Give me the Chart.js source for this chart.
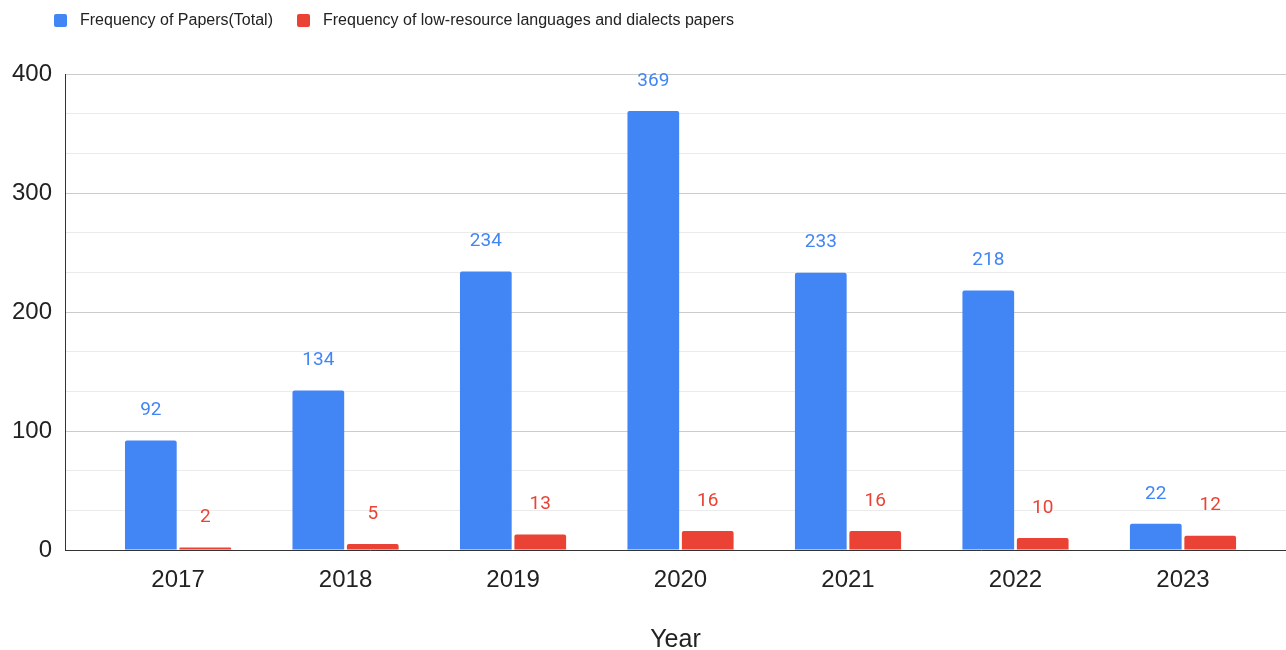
<!doctype html>
<html lang="en">
<head>
  <meta charset="UTF-8">
  <title>Papers per year</title>
  <script src="https://cdn.jsdelivr.net/npm/chart.js"></script>
  <style>
    html, body { margin: 0; padding: 0; background: #fff; }
    .wrap { position: relative; width: 1286px; height: 650px; }
    #legend {
      position: absolute; left: 54px; top: 11px;
      font-family: "Liberation Sans", Arial, sans-serif; font-size: 16px; color: #222;
      display: flex; align-items: center;
    }
    #legend .item { display: flex; align-items: center; margin-right: 24px; }
    #legend .box { width: 13px; height: 13px; border-radius: 2px; margin-right: 13px; }
  </style>
</head>
<body>
<div class="wrap">
  <canvas id="chart" width="1286" height="650"></canvas>
  <div id="legend"></div>
</div>
<script>
  const years = ['2017', '2018', '2019', '2020', '2021', '2022', '2023'];
  const totalPapers = [92, 134, 234, 369, 233, 218, 22];
  const lowResourcePapers = [2, 5, 13, 16, 16, 10, 12];
  const seriesNames = ['Frequency of Papers(Total)', 'Frequency of low-resource languages and dialects papers'];
  const seriesColors = ['#4285f4', '#ea4335'];

  const FONT = '"Liberation Sans", Arial, sans-serif';

  // value labels drawn above each bar
  const valueLabels = {
    id: 'valueLabels',
    afterDatasetsDraw(chart) {
      const ctx = chart.ctx;
      ctx.save();
      ctx.font = '19px Roboto, ' + FONT;
      ctx.textAlign = 'center';
      ctx.textBaseline = 'middle';
      chart.data.datasets.forEach((ds, i) => {
        ctx.fillStyle = seriesColors[i];
        chart.getDatasetMeta(i).data.forEach((bar, j) => {
          ctx.fillText(String(ds.data[j].y), bar.x, bar.y - 30);
        });
      });
      ctx.restore();
    }
  };

  const isMajor = v => Math.abs(v / 100 - Math.round(v / 100)) < 1e-6;

  const chart = new Chart(document.getElementById('chart'), {
    type: 'bar',
    data: {
      datasets: [
        {
          label: seriesNames[0],
          data: totalPapers.map((y, i) => ({ x: i, y })),
          backgroundColor: seriesColors[0],
          borderRadius: 2,
          categoryPercentage: 0.65,
          barPercentage: 0.95
        },
        {
          label: seriesNames[1],
          data: lowResourcePapers.map((y, i) => ({ x: i, y })),
          backgroundColor: seriesColors[1],
          borderRadius: 2,
          categoryPercentage: 0.65,
          barPercentage: 0.95
        }
      ]
    },
    options: {
      responsive: false,
      animation: false,
      layout: { padding: { top: 74, left: 10, right: 0, bottom: 0 } },
      plugins: {
        legend: { display: false },
        tooltip: { enabled: false }
      },
      scales: {
        x: {
          type: 'linear',
          offset: false,
          min: -0.675,
          max: 6.615,
          grid: { display: false },
          border: { display: true, color: '#333', width: 1 },
          ticks: {
            stepSize: 1,
            includeBounds: false,
            padding: 8,
            color: '#222',
            font: { family: FONT, size: 24 },
            callback: v => Number.isInteger(v) ? years[v] : ''
          },
          title: {
            display: true,
            text: 'Year',
            color: '#222',
            font: { family: FONT, size: 25, lineHeight: 0.8 },
            padding: { top: 0, bottom: 0 }
          },
          afterFit: s => { s.height = 100; }
        },
        y: {
          min: 0,
          max: 400,
          grid: {
            drawTicks: false,
            color: ctx => isMajor(ctx.tick.value) ? '#cccccc' : '#ebebeb'
          },
          border: { display: true, color: '#333', width: 1 },
          ticks: {
            count: 13,
            padding: 13,
            color: '#222',
            font: { family: FONT, size: 24 },
            callback: v => isMajor(v) ? String(Math.round(v)) : ''
          },
          afterFit: s => { s.width = 55; }
        }
      }
    },
    plugins: [valueLabels]
  });

  // legend built from the dataset names
  const legend = document.getElementById('legend');
  chart.data.datasets.forEach((ds, i) => {
    const item = document.createElement('div');
    item.className = 'item';
    item.innerHTML = '<span class="box" style="background:' + seriesColors[i] + '"></span><span>' + ds.label + '</span>';
    legend.appendChild(item);
  });
</script>
</body>
</html>
